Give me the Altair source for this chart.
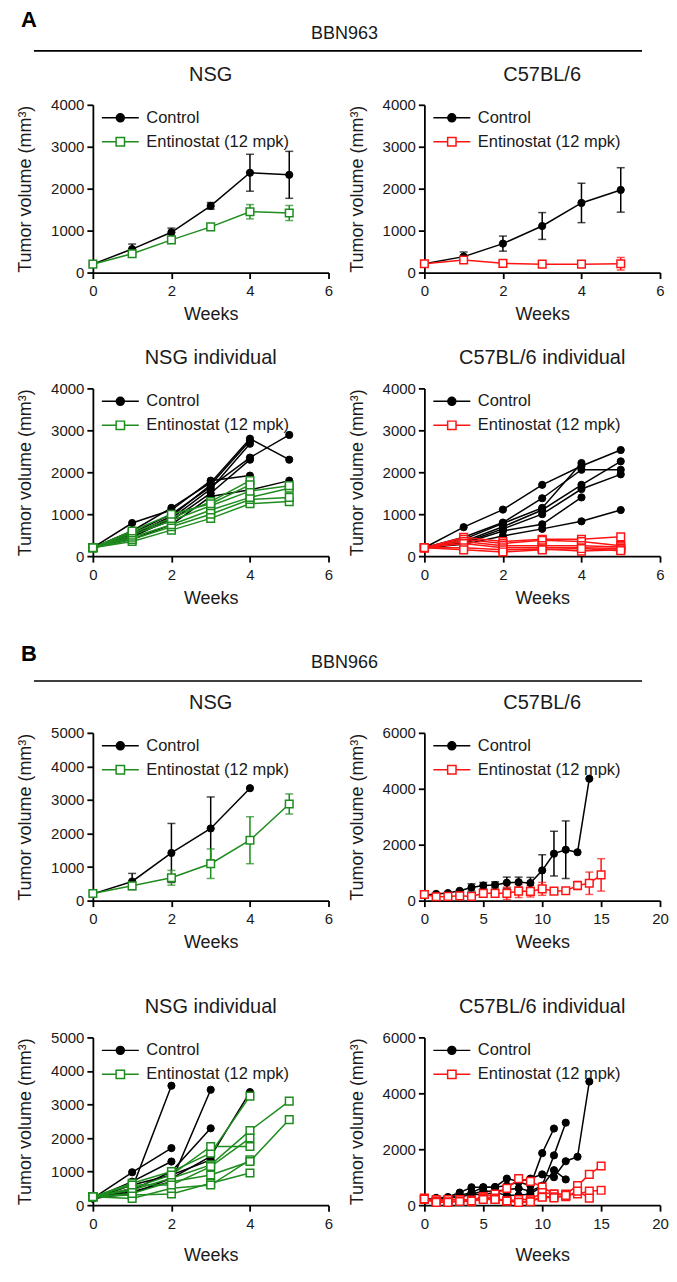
import altair as alt
import pandas as pd

FONT = "Liberation Sans"
INK = "#1a1a1a"
BLACK = "#000000"
GREEN = "#1e8c1e"
RED = "#ff1414"

GROUPS = ["Control", "Entinostat (12 mpk)"]
Y_TITLE = "Tumor volume (mm³)"
X_TITLE = "Weeks"

# ---------------- A: BBN963 ----------------
A_LETTER = "A"
A_NAME = "BBN963"
A_TITLES = ["NSG", "C57BL/6", "NSG individual", "C57BL/6 individual"]
a_weeks = [0, 1, 2, 3, 4, 5]
a_xticks = [0, 2, 4, 6]
a_yticks = [0, 1000, 2000, 3000, 4000]

a_nsg_ctrl_mean = [200, 560, 960, 1590, 2380, 2330]
a_nsg_ctrl_sem = [40, 120, 100, 80, 440, 560]
a_nsg_ent_mean = [200, 450, 780, 1090, 1450, 1420]
a_nsg_ent_sem = [30, 40, 40, 40, 170, 180]

a_c57_ctrl_mean = [210, 380, 690, 1110, 1660, 1970]
a_c57_ctrl_sem = [40, 110, 180, 320, 470, 530]
a_c57_ent_mean = [210, 300, 220, 200, 200, 210]
a_c57_ent_sem = [40, 60, 30, 20, 20, 150]

a_nsg_ind_ctrl = [
    [200, 790, 1100, 1800, 1920],
    [200, 600, 1150, 1750, 2800, 2300],
    [200, 550, 1000, 1650, 2350, 2890],
    [200, 500, 950, 1700, 2750],
    [200, 450, 900, 1600, 2680],
    [200, 400, 750, 1420, 1580, 1800],
    [200, 500, 850, 1500, 2300],
]
a_nsg_ind_ent = [
    [200, 350, 620, 900, 1250, 1300],
    [200, 400, 700, 1000, 1350, 1400],
    [200, 450, 750, 1100, 1400, 1620],
    [200, 500, 850, 1200, 1550, 1680],
    [200, 550, 900, 1300, 1800],
    [200, 600, 1000, 1250, 1700],
]
a_c57_ind_ctrl = [
    [200, 690, 1110, 1700, 2150, 2530],
    [200, 450, 800, 1380, 2060, 2060],
    [200, 400, 780, 1150, 2220],
    [200, 350, 700, 1100, 1700, 2260],
    [200, 320, 650, 1000, 1600, 1950],
    [200, 300, 600, 760, 1400],
    [200, 280, 480, 650, 830, 1100],
]
a_c57_ind_ent = [
    [200, 450, 350, 400, 400, 460],
    [200, 400, 300, 380, 350, 250],
    [200, 350, 250, 250, 250, 220],
    [200, 300, 200, 200, 200, 180],
    [200, 200, 150, 170, 120, 150],
    [200, 150, 100, 150, 180, 130],
]

# ---------------- B: BBN966 ----------------
B_LETTER = "B"
B_NAME = "BBN966"
B_TITLES = ["NSG", "C57BL/6", "NSG individual", "C57BL/6 individual"]
b_nsg_weeks = [0, 1, 2, 3, 4, 5]
b_nsg_xticks = [0, 2, 4, 6]
b_nsg_yticks = [0, 1000, 2000, 3000, 4000, 5000]
b_c57_weeks = [0, 1, 2, 3, 4, 5, 6, 7, 8, 9, 10, 11, 12, 13, 14, 15]
b_c57_xticks = [0, 5, 10, 15, 20]
b_c57_yticks = [0, 2000, 4000, 6000]

b_nsg_ctrl_mean = [200, 570, 1420, 2150, 3350]
b_nsg_ctrl_sem = [50, 240, 880, 940, 0]
b_nsg_ent_mean = [210, 440, 680, 1100, 1800, 2880]
b_nsg_ent_sem = [50, 80, 220, 440, 700, 300]

b_c57_ctrl_mean = [200, 240, 270, 350, 470, 540, 560, 640, 660, 630, 1080, 1680, 1820, 1730, 4360]
b_c57_ctrl_sem = [20, 20, 30, 40, 130, 110, 110, 200, 180, 200, 560, 800, 1030, 0, 0]
b_c57_ent_mean = [220, 140, 150, 170, 150, 260, 260, 260, 340, 330, 420, 340, 350, 540, 620, 920]
b_c57_ent_sem = [100, 80, 60, 60, 60, 100, 100, 220, 230, 200, 230, 80, 80, 150, 400, 580]

b_nsg_ind_ctrl = [
    [200, 500, 3560],
    [200, 980, 1700],
    [200, 700, 1300],
    [200, 400, 700, 3440],
    [200, 450, 1000, 2290],
    [200, 350, 800, 1450, 3370],
    [200, 600, 900, 1350],
]
b_nsg_ind_ent = [
    [250, 300, 330, 650, 960],
    [250, 200, 500, 600, 1350],
    [250, 450, 800, 1200, 2220, 3100],
    [250, 350, 700, 900, 1300, 2550],
    [250, 650, 1000, 1550, 3250],
    [250, 500, 900, 1750, 1750],
    [250, 600, 600, 1150, 2000],
]
b_c57_ind_ctrl = [
    [200, 260, 290, 450, 640, 640, 650, 950, 850, 950, 1100, 1000, 1570, 1730, 4420],
    [200, 240, 280, 350, 450, 640, 640, 700, 830, 700, 1860, 2740],
    [200, 240, 260, 300, 400, 500, 500, 550, 600, 500, 700, 1780, 2950],
    [200, 220, 250, 300, 380, 380, 450, 350, 350, 400, 680, 1250, 920],
]
b_c57_ind_ent = [
    [200, 200, 180, 200, 180, 300, 400, 600, 950, 850, 650, 400, 400, 700, 1100, 1400],
    [250, 150, 200, 200, 150, 300, 250, 150, 200, 200, 450, 400, 350, 400, 500, 530],
    [200, 100, 120, 150, 120, 250, 200, 150, 100, 150, 300, 300, 300, 500, 250],
    [220, 100, 100, 130, 150, 200, 200, 150, 100, 120, 280, 260, 350],
]

# legend symbols: line + marker (custom paths in unit box)
CIRCLE_SYM = "M-1.85,0H-0.4M0.4,0H1.85M0.4,0A0.4,0.4,0,1,1,-0.4,0A0.4,0.4,0,1,1,0.4,0Z"
SQUARE_SYM = "M-1.85,0H-0.42M0.42,0H1.85M-0.42,-0.42H0.42V0.42H-0.42Z"

W, H = 236, 168


def summary_df(weeks, mean, sem):
    rows = []
    for w, m, s in zip(weeks, mean, sem):
        rows.append({"week": w, "vol": m, "lo": m - s, "hi": m + s, "sem": s, "animal": 0})
    return pd.DataFrame(rows)


def individual_df(weeks, series):
    rows = []
    for i, vals in enumerate(series):
        for w, v in zip(weeks, vals):
            rows.append({"week": w, "vol": v, "animal": i})
    return pd.DataFrame(rows)


def panel(title, ctrl, ent, ent_color, xdom, xticks, ydom, yticks, summary, xtitle_pad):
    xax = alt.Axis(values=xticks, title=X_TITLE, format="d", titlePadding=xtitle_pad)
    yax = alt.Axis(values=yticks, title=Y_TITLE, format="d")
    xs = alt.Scale(domain=xdom, nice=False, zero=False)
    ys = alt.Scale(domain=ydom, nice=False)
    X = alt.X("week:Q", scale=xs, axis=xax)
    Y = alt.Y("vol:Q", scale=ys, axis=yax)
    layers = []
    if summary:
        for df, col in [(ctrl, BLACK), (ent, ent_color)]:
            e = df[df["sem"] > 0]
            layers.append(
                alt.Chart(e).mark_errorbar(ticks=True, size=8, thickness=1.5, color=col).encode(
                    x=X, y=alt.Y("lo:Q", scale=ys, axis=yax), y2="hi:Q"
                )
            )
    layers.append(alt.Chart(ctrl).mark_line(color=BLACK, strokeWidth=1.5).encode(x=X, y=Y, detail="animal:N"))
    layers.append(alt.Chart(ent).mark_line(color=ent_color, strokeWidth=1.5).encode(x=X, y=Y, detail="animal:N"))
    layers.append(
        alt.Chart(ctrl).mark_point(shape="circle", filled=True, fill=BLACK, stroke=BLACK,
                                   strokeWidth=1, size=52, opacity=1).encode(x=X, y=Y)
    )
    layers.append(
        alt.Chart(ent).mark_point(shape="square", filled=True, fill="white", stroke=ent_color,
                                  strokeWidth=1.5, size=58, opacity=1).encode(x=X, y=Y)
    )
    leg = alt.Legend(title=None, orient="none", legendX=16.5, legendY=2, symbolSize=400,
                     symbolStrokeWidth=1.5, symbolOpacity=1, labelFont=FONT, labelFontSize=16.5,
                     labelColor=INK, labelOffset=15, rowPadding=4, padding=0, labelLimit=220)
    leg_df = pd.DataFrame({"group": GROUPS})
    layers.append(
        alt.Chart(leg_df).mark_point(filled=True, opacity=0).encode(
            shape=alt.Shape("group:N", scale=alt.Scale(domain=GROUPS, range=[CIRCLE_SYM, SQUARE_SYM]), legend=leg),
            fill=alt.Fill("group:N", scale=alt.Scale(domain=GROUPS, range=[BLACK, "white"]), legend=leg),
            stroke=alt.Stroke("group:N", scale=alt.Scale(domain=GROUPS, range=[BLACK, ent_color]), legend=leg),
        )
    )
    return alt.layer(*layers).properties(width=W, height=H, title=alt.TitleParams(title, anchor="middle"))


def header(letter, name, height, y_letter, y_name, y_rule):
    # drawn in the left grid cell; the cell origin is the left plot origin
    base = alt.Chart(pd.DataFrame({"letter": [letter], "name": [name]}))
    t1 = base.mark_text(font=FONT, fontSize=22, fontWeight="bold", align="left", baseline="middle",
                        color=BLACK).encode(text="letter:N", x=alt.value(-72), y=alt.value(y_letter))
    t2 = base.mark_text(font=FONT, fontSize=18, align="center", baseline="middle",
                        color=INK).encode(text="name:N", x=alt.value(252), y=alt.value(y_name))
    r = base.mark_rule(color=BLACK, strokeWidth=1.6).encode(
        x=alt.value(-59), x2=alt.value(550), y=alt.value(y_rule))
    return alt.layer(t1, t2, r).properties(width=W, height=height)


def spacer(height):
    return alt.Chart(pd.DataFrame({"t": [""]})).mark_text().encode(text="t:N").properties(width=W, height=height)


IND = dict(fill="independent", stroke="independent", shape="independent")

pA1 = panel(A_TITLES[0], summary_df(a_weeks, a_nsg_ctrl_mean, a_nsg_ctrl_sem),
            summary_df(a_weeks, a_nsg_ent_mean, a_nsg_ent_sem), GREEN,
            [0, 6], a_xticks, [0, 4000], a_yticks, True, 7)
pA2 = panel(A_TITLES[1], summary_df(a_weeks, a_c57_ctrl_mean, a_c57_ctrl_sem),
            summary_df(a_weeks, a_c57_ent_mean, a_c57_ent_sem), RED,
            [0, 6], a_xticks, [0, 4000], a_yticks, True, 7)
pA3 = panel(A_TITLES[2], individual_df(a_weeks, a_nsg_ind_ctrl), individual_df(a_weeks, a_nsg_ind_ent),
            GREEN, [0, 6], a_xticks, [0, 4000], a_yticks, False, 7)
pA4 = panel(A_TITLES[3], individual_df(a_weeks, a_c57_ind_ctrl), individual_df(a_weeks, a_c57_ind_ent),
            RED, [0, 6], a_xticks, [0, 4000], a_yticks, False, 7)

pB1 = panel(B_TITLES[0], summary_df(b_nsg_weeks, b_nsg_ctrl_mean, b_nsg_ctrl_sem),
            summary_df(b_nsg_weeks, b_nsg_ent_mean, b_nsg_ent_sem), GREEN,
            [0, 6], b_nsg_xticks, [0, 5000], b_nsg_yticks, True, 7)
pB2 = panel(B_TITLES[1], summary_df(b_c57_weeks, b_c57_ctrl_mean, b_c57_ctrl_sem),
            summary_df(b_c57_weeks, b_c57_ent_mean, b_c57_ent_sem), RED,
            [0, 20], b_c57_xticks, [0, 6000], b_c57_yticks, True, 7)
pB3 = panel(B_TITLES[2], individual_df(b_nsg_weeks, b_nsg_ind_ctrl), individual_df(b_nsg_weeks, b_nsg_ind_ent),
            GREEN, [0, 6], b_nsg_xticks, [0, 5000], b_nsg_yticks, False, 15)
pB4 = panel(B_TITLES[3], individual_df(b_c57_weeks, b_c57_ind_ctrl), individual_df(b_c57_weeks, b_c57_ind_ent),
            RED, [0, 20], b_c57_xticks, [0, 6000], b_c57_yticks, False, 15)

cells = [
    header(A_LETTER, A_NAME, 95, 10, 24, 41), spacer(95),
    pA1, pA2,
    spacer(116), spacer(116),
    pA3, pA4,
    header(B_LETTER, B_NAME, 177, 98, 107, 125), spacer(177),
    pB1, pB2,
    spacer(137), spacer(137),
    pB3, pB4,
]

chart = (
    alt.concat(*cells, columns=2, bounds="flush", spacing={"row": 0, "column": 96})
    .resolve_scale(**IND)
    .properties(padding={"left": 8, "top": 0, "right": 0, "bottom": 0})
    .configure_view(stroke=None)
    .configure_axis(
        domainColor=BLACK, domainWidth=1.8, tickColor=BLACK, tickWidth=1.8, tickSize=6,
        grid=False, labelFont=FONT, labelFontSize=15, labelColor=INK, labelFlush=False,
        titleFont=FONT, titleFontSize=18, titleFontWeight="normal", titleColor=INK,
    )
    .configure_axisX(labelPadding=5)
    .configure_axisY(labelPadding=3, titlePadding=16)
    .configure_title(font=FONT, fontSize=20, fontWeight="normal", color=INK, offset=13)
)

chart.save("out.html", embed_options={"renderer": "svg", "actions": False})
